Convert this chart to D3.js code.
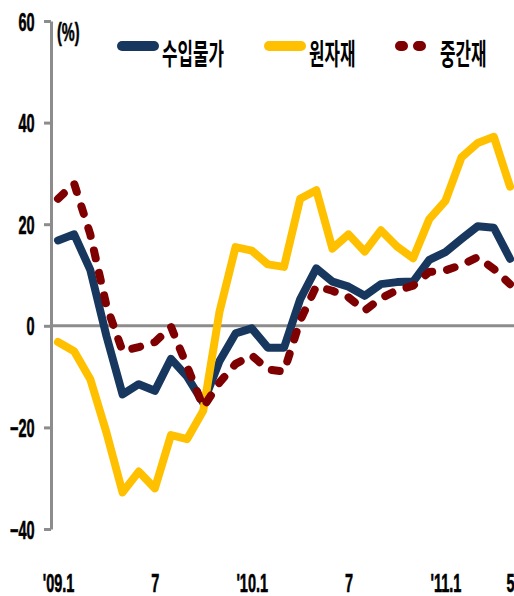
<!DOCTYPE html>
<html>
<head>
<meta charset="utf-8">
<script src="https://cdn.jsdelivr.net/npm/d3@7"></script>
<style>
  body { margin: 0; background: #fff; }
  .num { font-family: "Liberation Sans", Arial, sans-serif; font-weight: bold; font-size: 25px; fill: #000; stroke: #000; stroke-width: 0.6px; }
  .kor { font-family: "Noto Sans CJK KR", sans-serif; font-weight: bold; font-size: 29px; fill: #000; }
</style>
</head>
<body>
<div id="chart"></div>
<script>
// months '09.1 .. '11.5
var months = ["09.1","09.2","09.3","09.4","09.5","09.6","09.7","09.8","09.9","09.10","09.11","09.12",
  "10.1","10.2","10.3","10.4","10.5","10.6","10.7","10.8","10.9","10.10","10.11","10.12",
  "11.1","11.2","11.3","11.4","11.5"];
var tickIdx = [0, 6, 12, 18, 24, 28];
var tickLabels = ["'09.1", "7", "'10.1", "7", "'11.1", "5"];
var yTicks = [-40, -20, 0, 20, 40, 60];

var importPrice = [16.8, 18.0, 11.0, -2.0, -13.5, -11.5, -12.8, -6.5, -10.0, -15.2, -7.0, -1.5,
  -0.5, -4.3, -4.3, 5.2, 11.3, 8.7, 7.7, 5.9, 8.2, 8.6, 8.7, 13.0, 14.5, 17.1, 19.6, 19.3, 13.2];
var rawMaterial = [-3.2, -5.0, -10.5, -21.0, -32.8, -28.7, -32.0, -21.5, -22.3, -16.7, 2.7, 15.5,
  14.8, 12.1, 11.6, 25.0, 26.7, 15.2, 18.0, 14.6, 18.8, 15.6, 13.3, 21.0, 24.6, 33.2, 36.0, 37.2, 27.4];
var intermediate = [25.0, 28.0, 18.0, 4.0, -5.0, -4.2, -3.2, -0.2, -8.0, -16.0, -11.2, -7.5,
  -5.8, -8.6, -9.0, 1.0, 7.8, 6.9, 5.6, 3.0, 5.4, 7.0, 7.9, 10.6, 10.9, 12.0, 13.5, 11.2, 8.2];

var series = [
  { name: "수입물가", values: importPrice, color: "#17375e", dash: null },
  { name: "원자재", values: rawMaterial, color: "#ffc000", dash: null },
  { name: "중간재", values: intermediate, color: "#7f0000", dash: "8,15" }
];

var width = 514, height = 596;
var sx = 0.58; // text in the original is squeezed horizontally
var svg = d3.select("#chart").append("svg")
  .attr("width", width)
  .attr("height", height);

var xScale = d3.scaleLinear().domain([0, months.length - 1]).range([58, 510]);
var yScale = d3.scaleLinear().domain([-40, 60]).range([529, 21]);
var axisX = 51;

// zero line
svg.append("line")
  .attr("x1", axisX).attr("x2", width)
  .attr("y1", yScale(0)).attr("y2", yScale(0))
  .attr("stroke", "#8c8c8c").attr("stroke-width", 3);

// y axis
var yAxis = svg.append("g")
  .attr("transform", "translate(" + axisX + ",0)")
  .call(d3.axisLeft(yScale).tickValues(yTicks).tickSize(7).tickSizeOuter(0));
yAxis.select(".domain").attr("stroke", "#8c8c8c").attr("stroke-width", 3);
yAxis.selectAll(".tick line").attr("stroke", "#8c8c8c").attr("stroke-width", 3);
yAxis.selectAll(".tick text").attr("class", "num")
  .attr("x", -16.5 / sx).attr("dy", "0.36em")
  .attr("transform", "scale(" + sx + ",1)");

svg.append("g").attr("transform", "translate(57,41) scale(" + sx + ",1)")
  .append("text").attr("class", "num")
  .text("(%)");

// x tick labels
var xAxis = svg.append("g")
  .attr("transform", "translate(0,560)")
  .call(d3.axisBottom(xScale).tickValues(tickIdx).tickSize(0)
    .tickFormat(function(d) { return tickLabels[tickIdx.indexOf(d)]; }));
xAxis.select(".domain").remove();
xAxis.selectAll(".tick text").attr("class", "num")
  .attr("y", 32).attr("dy", null)
  .attr("transform", "scale(" + sx + ",1)");

// lines
var line = d3.line()
  .x(function(d, i) { return xScale(i); })
  .y(function(d) { return yScale(d); });

series.forEach(function(s) {
  svg.append("path")
    .datum(s.values)
    .attr("d", line)
    .attr("fill", "none")
    .attr("stroke", s.color)
    .attr("stroke-width", 8)
    .attr("stroke-linejoin", "round")
    .attr("stroke-linecap", "round")
    .attr("stroke-dasharray", s.dash);
});

// legend
var legendX = [122, 269, 400];
series.forEach(function(s, i) {
  var g = svg.append("g").attr("transform", "translate(" + legendX[i] + ",46)");
  g.append("line")
    .attr("x1", 0).attr("x2", s.dash ? 36 : 32)
    .attr("stroke", s.color)
    .attr("stroke-width", 10)
    .attr("stroke-linecap", "round")
    .attr("stroke-dasharray", s.dash ? "3,15" : null);
  g.append("g").attr("transform", "translate(40,19) scale(" + sx + ",1)")
    .append("text").attr("class", "kor")
    .text(s.name);
});
</script>
</body>
</html>
